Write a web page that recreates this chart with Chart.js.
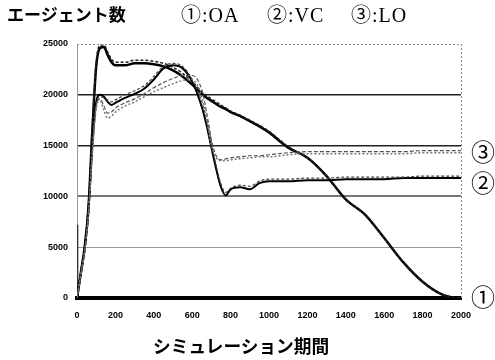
<!DOCTYPE html>
<html><head><meta charset="utf-8">
<script src="https://cdn.jsdelivr.net/npm/chart.js@4.4.0/dist/chart.umd.min.js"></script>
<style>
html,body{margin:0;padding:0;background:#fff;}
#wrap{position:relative;width:495px;height:360px;overflow:hidden;}
canvas{position:absolute;left:0;top:0;}
.t{position:absolute;white-space:nowrap;color:#000;line-height:1;}
.hd{font-family:"Noto Sans CJK JP";font-weight:bold;font-size:17px;left:7px;top:5px;}
.lg{font-family:"Liberation Serif","Noto Sans CJK JP",serif;font-size:20px;letter-spacing:1px;top:5px;}
.rl{font-family:"Noto Sans CJK JP";font-size:24px;left:471px;}
.xt{font-family:"Noto Sans CJK JP";font-weight:bold;font-size:17.7px;left:153px;top:337px;}
</style></head>
<body>
<div id="wrap">
<canvas id="c" width="495" height="360"></canvas>
<div class="t hd">エージェント数</div>
<div class="t lg" style="left:181px">①:OA</div>
<div class="t lg" style="left:267px">②:VC</div>
<div class="t lg" style="left:351px">③:LO</div>
<div class="t rl" style="top:139px">③</div>
<div class="t rl" style="top:170px">②</div>
<div class="t rl" style="top:284px">①</div>
<div class="t xt">シミュレーション期間</div>
</div>
<script>
const xs = [0,20,40,60,80,100,120,140,160,180,200,250,300,350,400,450,500,550,600,650,675,700,725,750,775,800,850,900,950,1000,1100,1200,1300,1400,1500,1600,1700,1800,1900,1950,2000];
const oaA = [0,2500,5000,9000,16500,22800,24600,24700,23900,23200,22900,22900,23100,23100,23000,22800,22400,21800,21000,20100,19700,19400,19100,18800,18600,18300,17900,17400,16900,16300,14800,13800,12000,9700,8200,5900,3500,1600,350,80,0];
const oaB = [0,2600,5200,9300,17000,23200,24900,24900,24200,23500,23200,23200,23400,23400,23300,23100,22700,22100,21300,20300,19900,19600,19300,19000,18700,18400,18000,17500,17000,16400,14900,13800,12000,9700,8200,5900,3500,1600,350,80,0];
const vcA = [0,2400,4800,8700,15000,19300,20000,19800,19300,19000,19200,19700,20100,20600,21500,22600,22900,22600,21300,18800,17000,14800,12700,10900,10100,10700,10900,10700,11300,11500,11500,11600,11600,11700,11700,11700,11800,11800,11800,11800,11800];
const vcB = [0,2300,4700,8500,14700,19000,19800,19700,19500,19300,19500,20000,20400,20900,21800,22800,23100,22800,21500,19300,17600,15300,13000,11200,10400,10800,11100,11000,11500,11700,11700,11800,11800,11900,11900,11900,11900,12000,12000,12000,12000];
const loA = [0,2300,4600,8300,14300,18600,19400,18500,17700,17900,18300,18900,19300,19800,20300,20700,21100,21400,21500,19800,17500,15000,13800,13500,13500,13600,13700,13800,13900,13900,14100,14200,14200,14200,14200,14200,14200,14300,14300,14300,14300];
const loB = [0,2350,4700,8400,14500,18900,19600,18900,18200,18300,18700,19200,19600,20100,20700,21200,21600,21900,21900,20500,18300,15600,14000,13600,13700,13800,13900,14000,14000,14100,14300,14400,14400,14400,14400,14400,14400,14500,14500,14500,14500];
const axisStub = [7200, 0];
const axisStubX = [0, 3];
const xTicks = [0,200,400,600,800,1000,1200,1400,1600,1800,2000];
const yTicks = [0,5000,10000,15000,20000,25000];

const pts = v => xs.map((x,i)=>({x:x,y:v[i]}));
const frame = {id:'frame', afterDraw(c){const {ctx,chartArea:a}=c; ctx.save(); ctx.strokeStyle='#888'; ctx.lineWidth=1; ctx.setLineDash([2,2]); ctx.beginPath(); ctx.moveTo(a.left,a.top+0.5); ctx.lineTo(a.right,a.top+0.5); ctx.moveTo(a.right+0.5,a.top); ctx.lineTo(a.right+0.5,a.bottom); ctx.stroke(); ctx.restore();}};
const gridCol = {5000:'#999',10000:'#777',15000:'#222',20000:'#222'};
const gridW = {5000:1,10000:2,15000:1.5,20000:1.5};
const ds = (label,v,color,w,dash)=>({label,data:pts(v),borderColor:color,borderWidth:w,borderDash:dash,pointRadius:0,cubicInterpolationMode:'monotone',fill:false});
new Chart(document.getElementById('c'),{
  type:'line',
  data:{datasets:[
    ds('LO-a',loA,'#777',1.5,[2,2]),
    ds('LO-b',loB,'#555',1.2,[4,2]),
    ds('VC-b',vcB,'#444',1.2,[3,2]),
    ds('VC-a',vcA,'#000',2,[]),
    ds('OA-b',oaB,'#222',1.5,[3,2]),
    ds('OA-a',oaA,'#000',2.5,[]),
    {label:'stub',data:axisStubX.map((x,i)=>({x:x,y:axisStub[i]})),borderColor:'#333',borderWidth:1.5,pointRadius:0}
  ]},
  plugins:[frame],
  options:{
    responsive:false,animation:false,
    layout:{padding:{left:0,top:44,right:34,bottom:0}},
    plugins:{legend:{display:false},tooltip:{enabled:false}},
    scales:{
      x:{type:'linear',min:0,max:2000,
        afterBuildTicks:s=>{s.ticks=xTicks.map(v=>({value:v}));},
        afterFit:s=>{s.height=62;},
        grid:{display:false,drawTicks:false},
        border:{display:true,color:'#000',width:4},
        ticks:{color:'#000',padding:12,maxRotation:0,font:{family:'Liberation Sans',size:9,weight:'bold'},callback:v=>String(v)}},
      y:{min:0,max:25000,
        afterBuildTicks:s=>{s.ticks=yTicks.map(v=>({value:v}));},
        afterFit:s=>{s.width=77;},
        grid:{drawTicks:false,color:c=>gridCol[c.tick.value]||'rgba(0,0,0,0)',lineWidth:c=>gridW[c.tick.value]||0},
        border:{display:true,color:'#999',width:1},
        ticks:{color:'#000',padding:9,font:{family:'Liberation Sans',size:9,weight:'bold'},callback:v=>String(v)}}
    }
  }
});
</script>
</body></html>
